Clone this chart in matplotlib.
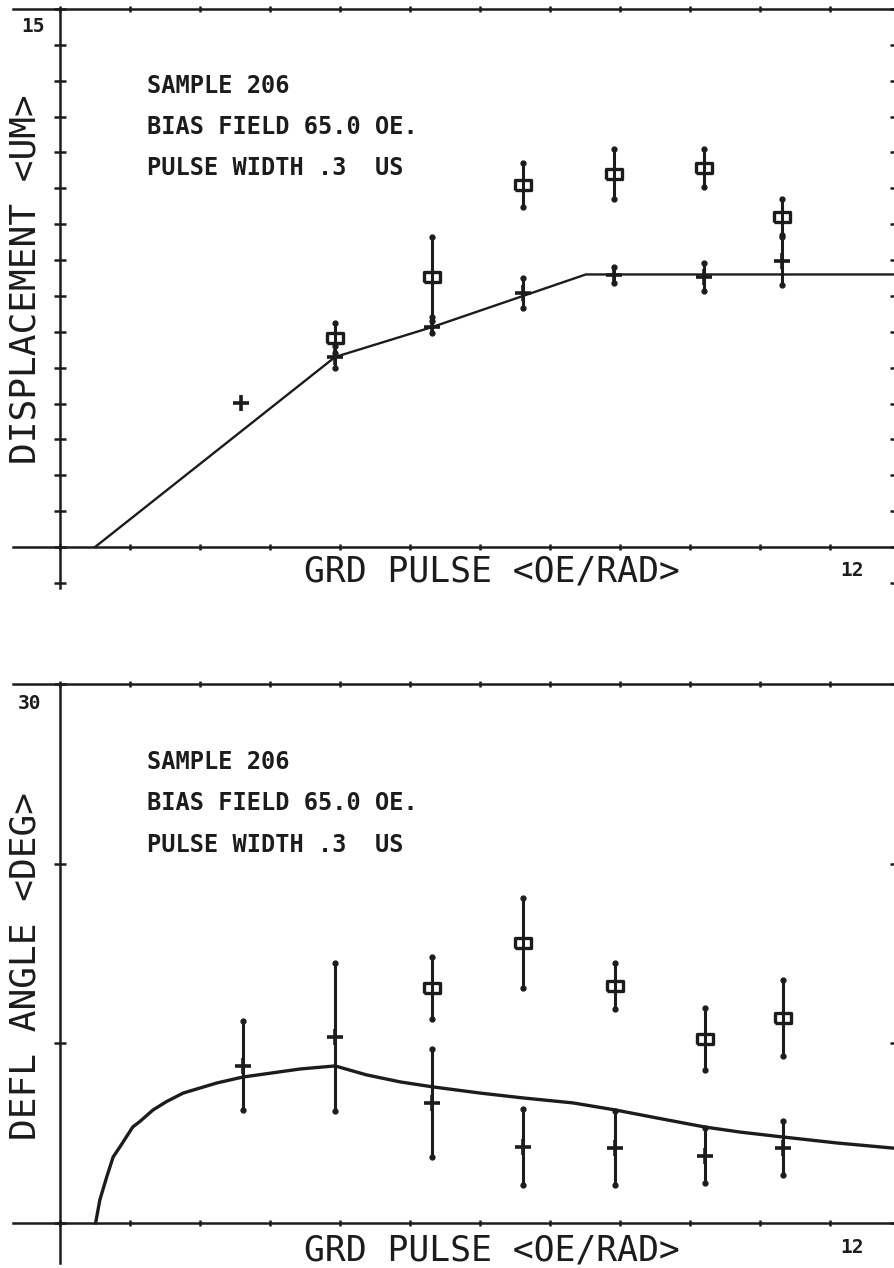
import matplotlib
matplotlib.use("Agg")
import matplotlib.pyplot as plt
import numpy as np

plt.rcParams["font.family"] = ["DejaVu Sans Mono", "DejaVu Sans"]

INK = "#1c1c1c"

# ---- top panel: displacement (um) vs GRD pulse (Oe/rad) ----
top_line_x = [0.5, 3.93, 5.31, 7.51, 12.0]
top_line_y = [0.0, 5.30, 6.13, 7.60, 7.60]

top_cross_x = [2.59, 3.93, 5.31, 6.61, 7.91, 9.20, 10.31]
top_cross_y = [4.01, 5.30, 6.13, 7.08, 7.58, 7.53, 7.97]
top_cross_err = [0.0, 0.30, 0.17, 0.42, 0.22, 0.40, 0.67]

top_sq_x = [3.93, 5.31, 6.61, 7.91, 9.20, 10.31]
top_sq_y = [5.83, 7.53, 10.09, 10.40, 10.57, 9.20]
top_sq_err = [0.41, 1.11, 0.61, 0.70, 0.52, 0.50]

# ---- bottom panel: deflection angle (deg) vs GRD pulse ----
bot_curve_x = [0.51, 0.57, 0.67, 0.76, 0.86, 1.04, 1.14, 1.33, 1.52, 1.76,
               2.24, 2.61, 3.43, 3.93, 4.38, 4.86, 5.33, 6.00, 6.61, 7.33,
               7.93, 8.53, 9.21, 9.71, 10.31, 11.10, 12.0]
bot_curve_y = [0.0, 1.28, 2.58, 3.67, 4.25, 5.34, 5.64, 6.29, 6.75, 7.23,
               7.79, 8.12, 8.57, 8.74, 8.24, 7.85, 7.57, 7.23, 6.96, 6.68,
               6.29, 5.84, 5.34, 5.06, 4.79, 4.45, 4.13]

bot_cross_x = [2.61, 3.93, 5.31, 6.61, 7.93, 9.21, 10.33]
bot_cross_y = [8.74, 10.35, 6.68, 4.23, 4.17, 3.73, 4.17]
bot_cross_err = [2.48, 4.10, 3.03, 2.10, 2.08, 1.53, 1.50]

bot_sq_x = [5.31, 6.61, 7.93, 9.21, 10.33]
bot_sq_y = [13.08, 15.58, 13.19, 10.24, 11.41]
bot_sq_err = [1.70, 2.50, 1.30, 1.75, 2.10]

ANNOTATION = ["SAMPLE 206", "BIAS FIELD 65.0 OE.", "PULSE WIDTH .3  US"]
XLABEL = "GRD PULSE <OE/RAD>"

RECT = [(-1.5, -1.0), (1.5, -1.0), (1.5, 1.0), (-1.5, 1.0), (-1.5, -1.0)]


def draw_panel(ax, ylim, yticks, ylabel, ymax_label, line_x, line_y, line_w,
               cx, cy, cerr, sx, sy, serr, ann_y, ylabel_y, ymax_pos, xlab_y):
    ax.set_xlim(-0.67, 11.94)
    ax.set_ylim(*ylim)
    ax.spines["left"].set_position(("data", 0))
    ax.spines["bottom"].set_position(("data", 0))
    for sp in ax.spines.values():
        sp.set_linewidth(1.8)
        sp.set_color(INK)
    ax.set_xticks(np.arange(0, 12))
    ax.set_yticks(yticks)
    ax.tick_params(axis="x", bottom=True, top=True, direction="inout",
                   length=5, width=1.8, color=INK, labelbottom=False)
    ax.tick_params(axis="y", left=True, right=True, direction="inout",
                   length=9, width=1.8, color=INK, labelleft=False)
    ax.patch.set_alpha(0)

    ax.plot(line_x, line_y, color=INK, lw=line_w, zorder=2,
            solid_joinstyle="round")

    # error bars, with round dots at their ends
    ax.errorbar(sx, sy, yerr=serr, fmt="none", ecolor=INK, elinewidth=2.2,
                capsize=0, zorder=4)
    ax.errorbar(cx, cy, yerr=cerr, fmt="none", ecolor=INK, elinewidth=2.2,
                capsize=0, zorder=4)
    for x, y, e in list(zip(sx, sy, serr)) + list(zip(cx, cy, cerr)):
        if e > 0:
            ax.plot([x, x], [y - e, y + e], ls="none", marker="o", ms=3.5,
                    color=INK, zorder=4)

    ax.plot(sx, sy, ls="none", marker=RECT, ms=11, mfc="white", mec=INK,
            mew=2.4, zorder=3)
    ax.plot(cx, cy, ls="none", marker="+", ms=12, mec=INK, mew=2.6, zorder=5)

    for txt, yy in zip(ANNOTATION, ann_y):
        ax.text(1.24, yy, txt, ha="left", va="center", fontsize=17,
                fontweight="bold", color=INK)

    ax.text(-0.486, ylabel_y, ylabel, rotation=90, ha="center", va="center",
            fontsize=26, color=INK)
    ax.text(ymax_pos[0], ymax_pos[1], ymax_label, ha="center", va="center",
            fontsize=14, fontweight="bold", color=INK)
    ax.text(6.17, xlab_y[0], XLABEL, ha="center", va="center",
            fontsize=25, color=INK)
    ax.text(11.31, xlab_y[1], "12", ha="center", va="center",
            fontsize=14, fontweight="bold", color=INK)


fig = plt.figure(figsize=(8.94, 12.68), dpi=100)
W, H = 894.0, 1268.0
left = 13 / W
width = (896 - 13) / W

ax1 = fig.add_axes([left, 1 - 588 / H, width, (588 - 9) / H])
draw_panel(ax1, (-1.14, 15), np.arange(-1, 16), "DISPLACEMENT <UM>", "15",
           top_line_x, top_line_y, 1.7,
           top_cross_x, top_cross_y, top_cross_err,
           top_sq_x, top_sq_y, top_sq_err,
           ann_y=[12.85, 11.71, 10.57], ylabel_y=7.47,
           ymax_pos=(-0.39, 14.5), xlab_y=(-0.67, -0.64))

ax2 = fig.add_axes([left, 1 - 1263 / H, width, (1263 - 684) / H])
draw_panel(ax2, (-2.23, 30), [0, 10, 20, 30], "DEFL ANGLE <DEG>", "30",
           bot_curve_x, bot_curve_y, 2.4,
           bot_cross_x, bot_cross_y, bot_cross_err,
           bot_sq_x, bot_sq_y, bot_sq_err,
           ann_y=[25.65, 23.37, 21.03], ylabel_y=14.3,
           ymax_pos=(-0.43, 28.94), xlab_y=(-1.56, -1.39))

fig.savefig("out.png", dpi=100, facecolor="white")
